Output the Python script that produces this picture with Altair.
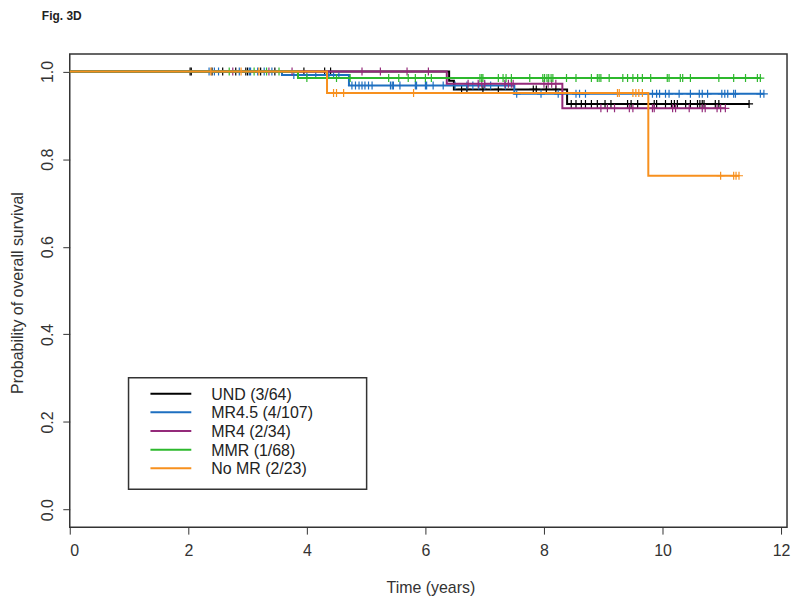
import altair as alt
import pandas as pd

FONT = "Liberation Sans, Arial, Helvetica, sans-serif"

labels = ["UND (3/64)", "MR4.5 (4/107)", "MR4 (2/34)", "MMR (1/68)", "No MR (2/23)"]
colors = ["#000000", "#1e6fc0", "#942a7a", "#2db82d", "#f7901e"]

# step curves: event times and survival after each step, plus last follow-up time
und_t = [0, 6.40, 6.48, 8.39]
und_s = [1.0, 0.979, 0.959, 0.926]
und_end = 11.46
und_c = [2.03, 2.05, 2.40, 2.58, 2.80, 2.97, 3.00, 3.22, 3.46, 3.95, 4.30, 4.40,
         6.61, 6.70, 6.97, 7.23, 7.82, 7.87, 8.04, 8.20,
         8.46, 8.54, 8.63, 8.70, 8.80, 8.90, 9.03, 9.13, 9.41, 9.47, 9.58, 9.86, 9.90,
         10.05, 10.15, 10.20, 10.25, 10.39, 10.47, 10.59, 10.63, 10.67, 10.70, 10.89, 10.95, 11.46]

mr45_t = [0, 3.58, 4.71, 7.50]
mr45_s = [1.0, 0.992, 0.968, 0.949]
mr45_end = 11.71
mr45_c = [2.35, 2.44, 2.51, 2.86, 3.03, 3.05, 3.17, 3.28, 3.41,
          3.78, 4.00, 4.15, 4.37, 4.45, 4.54,
          4.76, 4.82, 4.88, 4.93, 4.98, 5.04, 5.10, 5.41, 5.44, 5.46, 5.57, 5.83, 5.85,
          6.00, 6.02, 6.13, 6.30, 6.50, 6.70, 6.80, 6.90, 7.00, 7.10, 7.35,
          7.54, 7.95, 8.24, 8.54, 8.60, 8.70, 9.83, 9.90, 9.95, 10.05, 10.11, 10.28,
          10.47, 10.62, 10.67, 10.76, 11.00, 11.05, 11.10, 11.20, 11.23, 11.65, 11.71]

mr4_t = [0, 6.36, 8.31]
mr4_s = [1.0, 0.972, 0.916]
mr4_end = 11.06
mr4_c = [2.75, 3.36, 3.75, 4.93, 5.24, 5.69, 6.05,
         6.72, 6.89, 6.95, 7.00, 7.34, 7.40, 7.45, 7.48, 8.00, 8.07, 8.13, 8.20,
         8.96, 9.07, 9.19, 9.44, 9.50, 9.83, 9.86, 10.17, 10.22, 10.45, 10.67, 10.72,
         10.92, 10.98, 11.06]

mmr_t = [0, 3.85]
mmr_s = [1.0, 0.985]
mmr_end = 11.65
mmr_c = [2.69, 3.11, 3.32, 3.53,
         4.00, 4.50, 4.73, 5.38, 5.55, 5.71, 5.83, 6.00, 6.10, 6.92, 6.95, 6.97, 7.23,
         7.31, 7.36, 7.45, 7.76, 7.98, 8.01, 8.05, 8.08, 8.12, 8.15, 8.38, 8.54, 8.80,
         8.90, 8.93, 8.96, 9.10, 9.33, 9.41, 9.50, 9.58, 9.66, 9.80, 10.08, 10.11,
         10.30, 10.34, 10.47, 10.95, 11.20, 11.40, 11.60, 11.65]

nomr_t = [0, 4.34, 9.76]
nomr_s = [1.0, 0.951, 0.762]
nomr_end = 11.29
nomr_c = [2.38, 2.89, 3.19,
          4.45, 4.50, 4.62, 5.80, 9.24, 9.27, 9.50, 9.55, 9.60, 9.66,
          10.98, 11.20, 11.24, 11.29]

curves = [
    (und_t, und_s, und_end, und_c),
    (mr45_t, mr45_s, mr45_end, mr45_c),
    (mr4_t, mr4_s, mr4_end, mr4_c),
    (mmr_t, mmr_s, mmr_end, mmr_c),
    (nomr_t, nomr_s, nomr_end, nomr_c),
]

x_ticks = [0, 2, 4, 6, 8, 10, 12]
y_ticks = [0.0, 0.2, 0.4, 0.6, 0.8, 1.0]

W, H = 720, 475

xenc = alt.X("t:Q",
             scale=alt.Scale(domain=[0, 12.1], nice=False, zero=False),
             axis=alt.Axis(values=x_ticks, title="Time (years)", grid=False, domain=False,
                           tickSize=7, tickColor="#333", labelPadding=8,
                           labelFontSize=16, labelColor="#333", labelFont=FONT,
                           titleFontSize=16, titleColor="#333", titleFont=FONT,
                           titleFontWeight="normal", titleX=362, titleY=66,
                           titleBaseline="alphabetic"))
yenc = alt.Y("s:Q",
             scale=alt.Scale(domain=[-0.04, 1.04], nice=False, zero=False),
             axis=alt.Axis(values=y_ticks, format=".1f", title="Probability of overall survival",
                           grid=False, domain=False, tickSize=7, tickColor="#333",
                           labelPadding=7, labelAngle=270, labelAlign="center",
                           labelBaseline="bottom",
                           labelFontSize=16, labelColor="#333", labelFont=FONT,
                           titleFontSize=16, titleColor="#333", titleFont=FONT,
                           titleFontWeight="normal", titleAngle=270, titleX=-52,
                           titleY=H / 2 + 2, titleBaseline="middle", titleAlign="center"))

layers = []
for (ts, ss, end, cens), col in zip(curves, colors):
    pts = pd.DataFrame({"t": list(ts) + [end], "s": list(ss) + [ss[-1]]})
    layers.append(
        alt.Chart(pts).mark_line(interpolate="step-after", strokeWidth=2, color=col)
        .encode(x=xenc, y=yenc)
    )
    cy = []
    for c in cens:
        lvl = ss[0]
        for tt, sv in zip(ts, ss):
            if tt <= c:
                lvl = sv
        cy.append(lvl)
    cdf = pd.DataFrame({"t": cens, "s": cy})
    layers.append(
        alt.Chart(cdf).mark_point(shape="M0,-1L0,1M-1,0L1,0", filled=False, size=64,
                                  strokeWidth=1.2, color=col, opacity=1)
        .encode(x=xenc, y=yenc)
    )

one = pd.DataFrame({"k": [0]})
layers.append(
    alt.Chart(one).mark_rect(fill="white", stroke="#333", strokeWidth=1.5)
    .encode(x=alt.value(59), x2=alt.value(298), y=alt.value(325), y2=alt.value(437))
)
for i, (lab, col) in enumerate(zip(labels, colors)):
    d = pd.DataFrame({"label": [lab]})
    yy = 341 + i * 18.75
    layers.append(
        alt.Chart(d).mark_rule(strokeWidth=2, color=col)
        .encode(x=alt.value(81), x2=alt.value(122), y=alt.value(yy))
    )
    layers.append(
        alt.Chart(d).mark_text(align="left", baseline="middle", fontSize=16, font=FONT,
                               color="#222")
        .encode(x=alt.value(142), y=alt.value(yy + 1), text="label:N")
    )

layers.append(
    alt.Chart(pd.DataFrame({"txt": ["Fig. 3D"]})).mark_text(
        align="left", baseline="middle", fontSize=12, fontWeight="bold", font=FONT,
        color="#222")
    .encode(x=alt.value(-28), y=alt.value(-38.5), text="txt:N")
)

chart = alt.layer(*layers).properties(
    width=W, height=H,
    autosize=alt.AutoSizeParams(type="none"),
    padding={"left": 62, "top": 45, "right": 5, "bottom": 70},
    background="white",
).configure_view(stroke="#333", strokeWidth=1.5)

chart.save("out.html", embed_options={"renderer": "svg", "actions": False})
